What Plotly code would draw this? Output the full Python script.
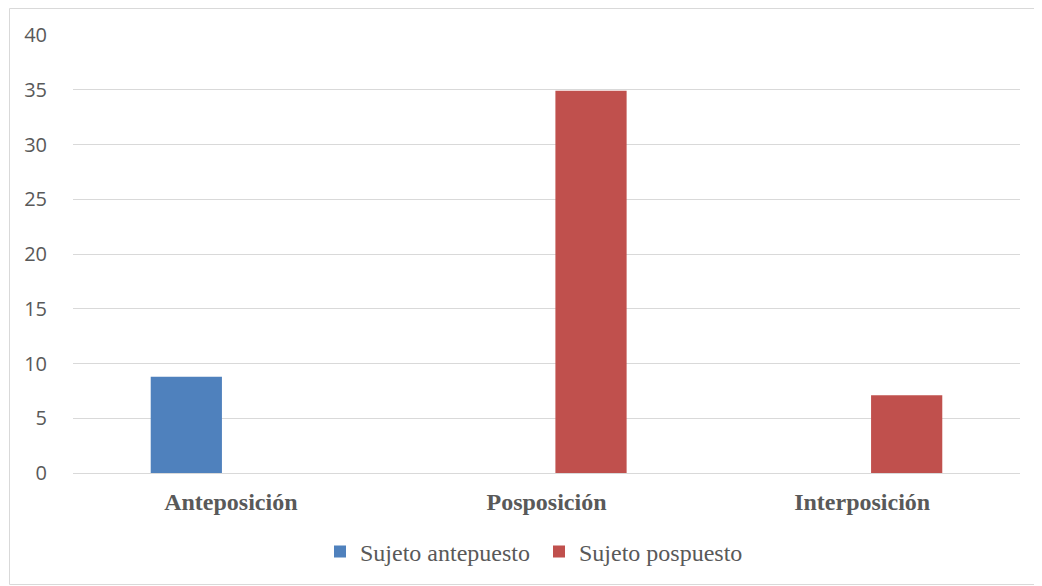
import plotly.graph_objects as go

categories = ["Anteposición", "Posposición", "Interposición"]
antepuesto = [8.8, 0, 0]
pospuesto = [0, 34.9, 7.1]
y_ticks = [0, 5, 10, 15, 20, 25, 30, 35, 40]

# page has an 8px body margin, so figure coords = page coords - 8
W, H = 1034, 578
ml, mr, mt, mb = 65, 22, 27, 113
pw, ph = W - ml - mr, H - mt - mb

fig = go.Figure()
fig.add_trace(go.Bar(name="Sujeto antepuesto", x=categories, y=antepuesto,
                     marker=dict(color="#4f81bd", line=dict(width=0))))
fig.add_trace(go.Bar(name="Sujeto pospuesto", x=categories, y=pospuesto,
                     marker=dict(color="#c0504d", line=dict(width=0))))

# outer chart border
x0 = (1.5 - ml) / pw
x1 = (1032.5 - ml) / pw
y1 = 1 + (mt - 0.5) / ph
y0 = -(H - 1.5 - (H - mb)) / ph
fig.add_shape(type="rect", xref="paper", yref="paper", x0=x0, x1=x1, y0=y0, y1=y1,
              line=dict(color="#d9d9d9", width=1), fillcolor="rgba(0,0,0,0)", layer="below")

fig.update_layout(
    width=W, height=H,
    margin=dict(l=ml, r=mr, t=mt, b=mb, pad=0),
    paper_bgcolor="white", plot_bgcolor="white",
    barmode="group", bargap=0.436, bargroupgap=0.2,
    showlegend=True,
    legend=dict(orientation="h", x=(312 - ml) / pw, xanchor="left", y=-79 / ph, yanchor="middle",
                font=dict(family="Liberation Serif, Times New Roman, serif", size=24, color="#595959"),
                entrywidth=174, entrywidthmode="pixels", traceorder="normal"),
    xaxis=dict(showgrid=False, showline=False, ticks="outside", ticklen=7,
               tickcolor="rgba(0,0,0,0)",
               tickfont=dict(family="Liberation Serif", size=24, color="#595959", weight="bold")),
    yaxis=dict(range=[0, 40], tickvals=y_ticks, showgrid=True, gridcolor="#d9d9d9", gridwidth=1,
               zeroline=True, zerolinecolor="#d9d9d9", zerolinewidth=1,
               ticks="outside", ticklen=21, tickcolor="rgba(0,0,0,0)",
               tickfont=dict(family="Open Sans", size=20, color="#595959")),
)

fig.write_html("out.html")
